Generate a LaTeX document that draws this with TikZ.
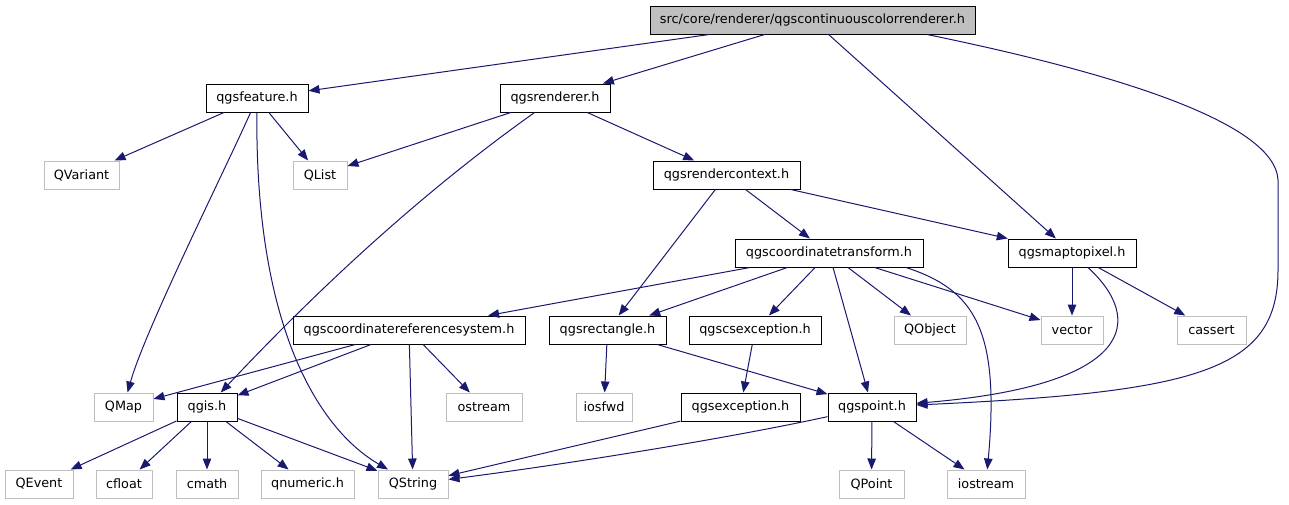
\documentclass[tikz,border=0pt]{standalone}
\usepackage{fontspec}
\setmainfont{DejaVu Sans}
\usetikzlibrary{arrows.meta}
\definecolor{edgeblue}{HTML}{191970}
\definecolor{extgray}{HTML}{BFBFBF}
\tikzset{
  box/.style={rectangle, inner sep=0pt, minimum height=28pt, line width=1pt,
    font=\fontsize{12.8}{14}\selectfont, text=black},
  doc/.style={box, draw=black, fill=white},
  ext/.style={box, draw=extgray, fill=white},
  rootbox/.style={box, draw=black, fill=extgray},
  dep/.style={draw=edgeblue, line width=1pt,
    -{Triangle[length=11pt,width=8.5pt,fill=edgeblue]}},
}
\begin{document}
\begin{tikzpicture}[x=1pt,y=-1pt]
\useasboundingbox (0,0) rectangle (1289,504);
% nodes
\node[rootbox, minimum width=325pt] (root) at (812.5,20) {src/core/renderer/qgscontinuouscolorrenderer.h};
\node[doc, minimum width=102pt] (feat) at (257,98) {qgsfeature.h};
\node[doc, minimum width=110pt] (rend) at (555,98) {qgsrenderer.h};
\node[ext, minimum width=75pt] (qvar) at (81.5,175) {QVariant};
\node[ext, minimum width=54pt] (qlist) at (320,175) {QList};
\node[doc, minimum width=147pt] (rctx) at (726.5,175) {qgsrendercontext.h};
\node[doc, minimum width=188pt] (ctr) at (829,253) {qgscoordinatetransform.h};
\node[doc, minimum width=128pt] (m2p) at (1072,253) {qgsmaptopixel.h};
\node[doc, minimum width=232pt] (crs) at (409,330) {qgscoordinatereferencesystem.h};
\node[doc, minimum width=117pt] (rect) at (607.5,330) {qgsrectangle.h};
\node[doc, minimum width=132pt] (csex) at (755,330) {qgscsexception.h};
\node[ext, minimum width=72pt] (qobj) at (930,330) {QObject};
\node[ext, minimum width=62pt] (vec) at (1072,330) {vector};
\node[ext, minimum width=69pt] (cass) at (1211.5,330) {cassert};
\node[ext, minimum width=59pt] (qmap) at (123.5,407) {QMap};
\node[doc, minimum width=60pt] (qgis) at (207,407) {qgis.h};
\node[ext, minimum width=76pt] (ostr) at (484,407) {ostream};
\node[ext, minimum width=56pt] (iosf) at (604,407) {iosfwd};
\node[doc, minimum width=119pt] (exc) at (740.5,407) {qgsexception.h};
\node[doc, minimum width=88pt] (pt) at (872,407) {qgspoint.h};
\node[ext, minimum width=68pt] (qev) at (39,484) {QEvent};
\node[ext, minimum width=56pt] (cfl) at (124,484) {cfloat};
\node[ext, minimum width=62pt] (cmath) at (207,484) {cmath};
\node[ext, minimum width=93pt] (qnum) at (307.5,484) {qnumeric.h};
\node[ext, minimum width=70pt] (qstr) at (413,484) {QString};
\node[ext, minimum width=65pt] (qpt) at (871.5,484) {QPoint};
\node[ext, minimum width=78pt] (iost) at (986,484) {iostream};
% edges from root
\draw[dep] (root) -- (feat);
\draw[dep] (root) -- (rend);
\draw[dep] (root) -- (m2p);
\draw[dep] ([xshift=114.5pt]root.south) .. controls (1100,70) and (1275,120) .. (1278,180)
  -- (1278,270) .. controls (1278,370) and (1200,392) .. (pt);
% qgsfeature.h
\draw[dep] (feat) -- (qvar);
\draw[dep] (feat) -- (qlist);
\draw[dep] (feat) .. controls (225,170) and (145,330) .. (qmap);
\draw[dep] (feat) .. controls (255,330) and (320,430) .. (qstr);
% qgsrenderer.h
\draw[dep] (rend) -- (qlist);
\draw[dep] (rend) .. controls (390,215) and (275,335) .. (qgis);
\draw[dep] (rend) -- (rctx);
% qgsrendercontext.h
\draw[dep] (rctx) -- (rect);
\draw[dep] (rctx) -- (ctr);
\draw[dep] (rctx) -- (m2p);
% qgscoordinatetransform.h
\draw[dep] (ctr) -- (crs);
\draw[dep] (ctr) -- (rect);
\draw[dep] (ctr) -- (csex);
\draw[dep] (ctr) -- (pt);
\draw[dep] (ctr) -- (qobj);
\draw[dep] (ctr) -- (vec);
\draw[dep] ([xshift=77pt]ctr.south) .. controls (975,290) and (1000,330) .. (iost);
% qgsmaptopixel.h
\draw[dep] (m2p) -- (vec);
\draw[dep] (m2p) -- (cass);
\draw[dep] ([xshift=16pt]m2p.south) .. controls (1145,320) and (1135,385) .. (pt);
% qgscoordinatereferencesystem.h
\draw[dep] (crs) -- (qmap);
\draw[dep] (crs) -- (qgis);
\draw[dep] (crs) -- (qstr);
\draw[dep] (crs) -- (ostr);
% qgsrectangle.h
\draw[dep] (rect) -- (iosf);
\draw[dep] (rect) -- (pt);
% qgscsexception.h
\draw[dep] (csex) -- (exc);
% qgsexception.h
\draw[dep] (exc) -- (qstr);
% qgspoint.h
\draw[dep] (pt) .. controls (720,440) and (560,465) .. (qstr);
\draw[dep] (pt) -- (qpt);
\draw[dep] (pt) -- (iost);
% qgis.h
\draw[dep] (qgis) -- (qev);
\draw[dep] (qgis) -- (cfl);
\draw[dep] (qgis) -- (cmath);
\draw[dep] (qgis) -- (qnum);
\draw[dep] (qgis) -- (qstr);
\end{tikzpicture}
\end{document}
